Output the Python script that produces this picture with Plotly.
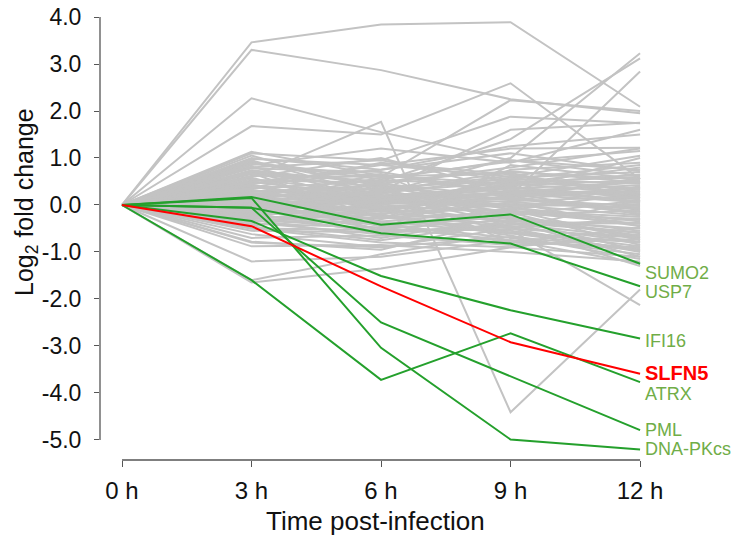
import plotly.graph_objects as go

hours = [0, 3, 6, 9, 12]
x_tick_labels = ["0 h", "3 h", "6 h", "9 h", "12 h"]
y_tick_vals = [4, 3, 2, 1, 0, -1, -2, -3, -4, -5]

# Grey background proteins: log2 fold change at 3h, 6h, 9h, 12h (0h is 0)
gray_3h = [3.46, 3.30, 2.27, 1.68, 0.60, 0.30, 0.40, 0.70, 1.10, 0.90, -0.50, -1.65, -1.60, -1.20, -0.80,
           1.13, 1.05, 0.98, 0.92, 0.88, 0.82, 0.78, 0.74, 0.70, 0.66, 0.62, 0.58, 0.55, 0.52, 0.49, 0.46,
           0.43, 0.40, 0.38, 0.35, 0.33, 0.30, 0.28, 0.26, 0.24, 0.22, 0.20, 0.18, 0.16, 0.14, 0.12, 0.10,
           0.09, 0.07, 0.06, 0.05, 0.04, 0.03, 0.02, 0.01, 0.00, -0.01, -0.02, -0.03, -0.04, -0.05, -0.06,
           -0.07, -0.08, -0.10, -0.11, -0.12, -0.14, -0.15, -0.17, -0.18, -0.20, -0.22, -0.24, -0.25, -0.27,
           -0.29, -0.31, -0.33, -0.36, -0.38, -0.40, -0.43, -0.46, -0.50, -0.55, -0.62, -0.70, -0.78, -0.88,
           0.95, 0.80, 0.68, 0.50, 0.36, 0.25, 0.15, 0.08, -0.05, -0.15, -0.28, -0.45, 0.60, 1.00, 0.85,
           0.72, 0.44]
gray_6h = [3.84, 2.87, 1.55, 1.50, 1.77, 0.25, -0.10, 0.50, 0.95, 0.60, -0.53, -1.35, -1.05, -1.10, -0.90,
           0.62, 0.30, 0.85, 0.40, 0.55, 0.10, 0.70, 0.45, 0.05, 0.38, 0.60, -0.15, 0.25, 0.48, 0.18, 0.66,
           -0.05, 0.32, 0.12, 0.52, -0.25, 0.20, 0.42, 0.00, 0.35, 0.15, -0.35, 0.28, 0.08, 0.45, -0.10,
           0.22, 0.02, -0.20, 0.30, 0.12, -0.45, 0.05, 0.18, -0.08, 0.10, -0.30, 0.25, -0.12, 0.06, -0.40,
           0.15, -0.22, -0.02, 0.08, -0.50, -0.18, 0.20, -0.35, -0.06, -0.60, -0.14, -0.42, 0.02, -0.28,
           -0.55, -0.20, -0.70, -0.38, -0.10, -0.62, -0.48, -0.25, -0.75, -0.80, -0.58, -0.90, -0.65, -0.95,
           -0.85, 0.20, 0.95, -0.30, 0.75, 0.90, -0.55, 0.65, 0.58, 0.50, 0.40, 0.35, 0.10, 1.00, 0.75,
           1.20, 0.30, 0.85]
gray_9h = [3.89, 2.25, 0.95, 2.59, -4.41, 1.00, 0.20, 1.40, 1.88, 2.23, -0.53, -0.90, -0.60, -0.75, -0.50,
           0.45, 0.70, 0.60, -0.10, 0.95, 0.35, 0.25, 0.80, 0.52, 0.12, 0.68, 0.30, 0.58, -0.05, 0.40, 0.22,
           0.15, 0.62, -0.22, 0.44, 0.05, 0.36, 0.10, 0.55, -0.30, 0.26, -0.12, 0.48, 0.02, 0.18, 0.32,
           -0.40, 0.08, 0.20, -0.18, 0.42, -0.25, -0.02, 0.14, -0.35, 0.28, 0.06, -0.08, -0.45, 0.12, -0.20,
           0.38, -0.55, -0.14, 0.24, -0.32, 0.00, -0.28, -0.60, 0.16, -0.42, -0.10, -0.70, -0.38, -0.16,
           -0.48, -0.65, -0.26, -0.80, -0.50, -0.06, -0.75, -0.58, -0.36, -0.90, -0.45, -0.68, -0.85, -0.30,
           -1.00, -0.15, 0.50, 0.75, 1.10, 0.65, 0.85, -0.50, 0.92, 0.72, -0.80, 0.55, 0.45, 0.30, 1.25,
           0.90, 1.60, 1.20]
gray_12h = [2.09, 1.95, 0.75, 0.55, -1.80, 3.23, 2.84, 3.12, 1.74, 2.00, -2.13, -1.10, -0.80, -0.95, -0.70,
            0.80, 0.55, 1.05, 0.25, 0.62, 0.48, -0.20, 1.20, 0.33, 0.58, 0.15, 0.42, 0.70, -0.35, 0.05,
            0.50, -0.10, 0.28, 0.10, 0.65, -0.45, 0.20, 0.38, 0.45, -0.60, 0.12, -0.25, 0.60, -0.05, 0.30,
            0.08, -0.70, 0.18, 0.35, -0.30, 0.52, -0.55, 0.02, -0.15, -0.40, 0.22, -0.08, 0.40, -0.78, -0.02,
            -0.12, 0.15, -0.88, -0.32, 0.06, -0.50, -0.22, -0.65, -0.95, -0.18, -0.38, -0.75, -1.05, -0.58,
            -0.85, -0.28, -1.15, -0.68, -0.90, -1.00, -0.45, -1.25, -0.80, -1.10, -0.62, -1.30, -0.92, -0.72,
            -0.98, -1.20, -0.40, 0.35, 0.90, 0.72, 0.20, 0.55, 0.10, 1.15, 0.48, -0.48, 0.85, 0.25, 1.00,
            1.50, 1.60, 1.75, 1.22]

# Highlighted proteins
green_names = ["SUMO2", "USP7", "IFI16", "ATRX", "PML", "DNA-PKcs"]
green_values = [
    [0, 0.17, -0.42, -0.20, -1.25],
    [0, -0.06, -0.60, -0.82, -1.73],
    [0, -0.34, -1.51, -2.24, -2.84],
    [0, -1.60, -3.72, -2.73, -3.77],
    [0, -0.06, -2.50, -3.64, -4.79],
    [0, 0.15, -3.04, -4.99, -5.20],
]
red_name = "SLFN5"
red_values = [0, -0.45, -1.73, -2.92, -3.59]

# label vertical offsets (px) to avoid overlap
green_label_shift = [-9, -6, -3, -12, 0, 0]
red_label_shift = 1

GREY = "#c3c3c3"
GREEN_LINE = "#24a02c"
GREEN_TEXT = "#70ad47"
RED = "#ff0000"
AXIS = "#555555"
FONT = "Liberation Sans, Arial, sans-serif"

fig = go.Figure()

for a, b, c, d in zip(gray_3h, gray_6h, gray_9h, gray_12h):
    fig.add_trace(go.Scatter(x=hours, y=[0, a, b, c, d], mode="lines",
                             line=dict(color=GREY, width=2), hoverinfo="skip", showlegend=False))

for name, vals in zip(green_names, green_values):
    fig.add_trace(go.Scatter(x=hours, y=vals, mode="lines", name=name,
                             line=dict(color=GREEN_LINE, width=2), showlegend=False))

fig.add_trace(go.Scatter(x=hours, y=red_values, mode="lines", name=red_name,
                         line=dict(color=RED, width=2), showlegend=False))

for name, vals, sh in zip(green_names, green_values, green_label_shift):
    fig.add_annotation(x=hours[-1], y=vals[-1], text=name, showarrow=False,
                       xanchor="left", yanchor="middle", xshift=3, yshift=sh,
                       font=dict(family=FONT, size=18, color=GREEN_TEXT))
fig.add_annotation(x=hours[-1], y=red_values[-1], text="<b>%s</b>" % red_name, showarrow=False,
                   xanchor="left", yanchor="middle", xshift=3, yshift=red_label_shift,
                   font=dict(family=FONT, size=20, color=RED))

# axis titles
fig.add_annotation(xref="paper", x=0, xshift=-74, yref="y", y=0, yshift=3,
                   text="Log<sub>2</sub> fold change", textangle=-90, showarrow=False,
                   xanchor="center", yanchor="middle", font=dict(family=FONT, size=25, color="#111111"))
fig.add_annotation(xref="paper", x=0.5, yref="paper", y=0, yshift=-61,
                   text="Time post-infection", showarrow=False,
                   xanchor="center", yanchor="middle", font=dict(family=FONT, size=26, color="#111111"))

# axis lines limited to tick span
fig.add_shape(type="line", xref="paper", x0=0, x1=0, yref="y", y0=y_tick_vals[-1], y1=y_tick_vals[0],
              line=dict(color=AXIS, width=1.3))
fig.add_shape(type="line", xref="x", x0=hours[0], x1=hours[-1], yref="paper", y0=0, y1=0,
              line=dict(color=AXIS, width=1.3))

fig.update_layout(
    width=751, height=536,
    margin=dict(l=100, r=101, t=10, b=76, autoexpand=False),
    paper_bgcolor="white", plot_bgcolor="white",
    font=dict(family=FONT, size=22, color="#111111"),
    hovermode=False,
    xaxis=dict(range=[-0.51, 12.23], tickvals=hours, ticktext=x_tick_labels,
               showgrid=False, zeroline=False, showline=False, automargin=False,
               ticks="outside", ticklen=6, tickcolor=AXIS, tickwidth=1.3,
               ticklabelstandoff=3, tickfont=dict(size=24)),
    yaxis=dict(range=[-5.426, 4.149], tickvals=y_tick_vals,
               ticktext=["%.1f" % v for v in y_tick_vals],
               showgrid=False, zeroline=False, showline=False, automargin=False,
               ticks="outside", ticklen=5, tickcolor=AXIS, tickwidth=1.3,
               ticklabelstandoff=8, tickfont=dict(size=23)),
)

fig.write_html("out.html", config={"displayModeBar": False},
               post_script="document.body.style.margin='0';document.body.style.padding='0';")
